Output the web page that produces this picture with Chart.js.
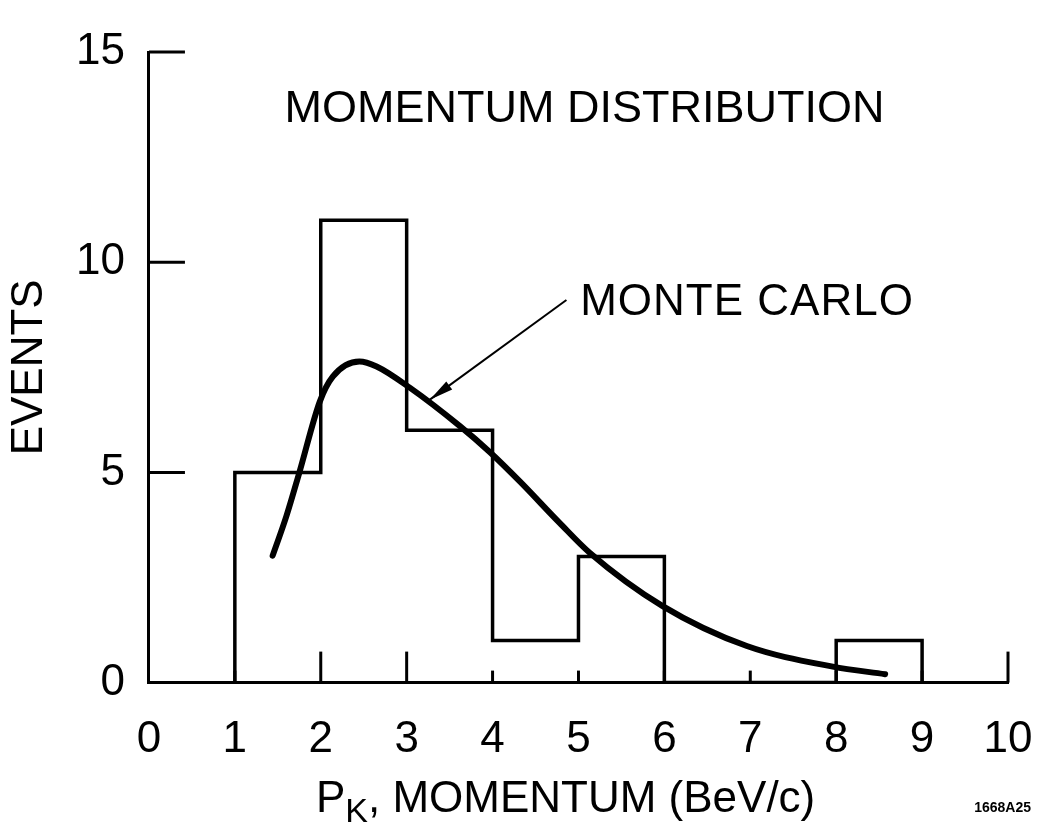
<!DOCTYPE html>
<html>
<head>
<meta charset="utf-8">
<title>Momentum distribution</title>
<script src="https://cdn.jsdelivr.net/npm/chart.js@4"></script>
<style>
  html, body { margin: 0; padding: 0; background: #fff; }
  canvas { display: block; }
</style>
</head>
<body>
<canvas id="momentumChart" width="1037" height="827"></canvas>
<script>
// histogram bins (BeV/c) and events counted in each
var binEdges = [1, 2, 3, 4, 5, 6, 7, 8, 9];
var binCounts = [5, 11, 6, 1, 3, 0, 0, 1];

// Monte Carlo expectation curve
var mcMomentum = [1.44, 1.60, 1.75, 1.99, 2.14, 2.45, 2.65, 3.04, 3.62, 3.97, 4.32, 4.78, 5.13, 5.98, 6.96, 7.96, 8.57];
var mcEvents = [3.02, 3.96, 4.99, 6.69, 7.28, 7.64, 7.52, 7.01, 6.10, 5.48, 4.78, 3.80, 3.09, 1.82, 0.87, 0.38, 0.20];

var xTicks = [0, 1, 2, 3, 4, 5, 6, 7, 8, 9, 10];
var yTicks = [0, 5, 10, 15];

var FONT = "'Liberation Sans', Arial, sans-serif";
Chart.defaults.font.family = FONT;
Chart.defaults.color = '#000';

// outline of the histogram as one stepped line
var histPoints = [{ x: binEdges[0], y: 0 }];
for (var i = 0; i < binCounts.length; i++) {
  histPoints.push({ x: binEdges[i + 1], y: binCounts[i] });
}
histPoints.push({ x: binEdges[binEdges.length - 1], y: 0 });

var mcPoints = mcMomentum.map(function(p, i) { return { x: p, y: mcEvents[i] }; });

function line(ctx, x0, y0, x1, y1) {
  ctx.beginPath();
  ctx.moveTo(x0, y0);
  ctx.lineTo(x1, y1);
  ctx.stroke();
}

// inward tick marks, arrow and lettering
var annotations = {
  id: 'annotations',
  afterDatasetsDraw: function(chart) {
    var ctx = chart.ctx, x = chart.scales.x, y = chart.scales.y;
    ctx.save();
    ctx.strokeStyle = '#000';
    ctx.fillStyle = '#000';
    ctx.lineWidth = 3;

    yTicks.forEach(function(v) {
      if (v === 0) return;
      var py = y.getPixelForValue(v);
      line(ctx, x.left, py, x.left + 36, py);
    });
    xTicks.forEach(function(v) {
      if (v === 0) return;
      var len = (v === 2 || v === 3 || v === 10) ? 31 : 12;
      var px = x.getPixelForValue(v);
      line(ctx, px, y.bottom, px, y.bottom - len);
    });

    // arrow pointing at the curve
    var ax0 = x.getPixelForValue(4.86), ay0 = y.getPixelForValue(9.1);
    var ax1 = x.getPixelForValue(3.27), ay1 = y.getPixelForValue(6.73);
    ctx.lineWidth = 2;
    line(ctx, ax0, ay0, ax1, ay1);
    var ang = Math.atan2(ay1 - ay0, ax1 - ax0);
    var hl = 24, hw = 5;
    ctx.beginPath();
    ctx.moveTo(ax1, ay1);
    ctx.lineTo(ax1 - hl * Math.cos(ang) + hw * Math.sin(ang), ay1 - hl * Math.sin(ang) - hw * Math.cos(ang));
    ctx.lineTo(ax1 - hl * Math.cos(ang) - hw * Math.sin(ang), ay1 - hl * Math.sin(ang) + hw * Math.cos(ang));
    ctx.closePath();
    ctx.fill();

    ctx.textBaseline = 'alphabetic';
    ctx.font = '45px ' + FONT;
    ctx.textAlign = 'center';
    ctx.fillText('MOMENTUM DISTRIBUTION', x.getPixelForValue(5.07), y.getPixelForValue(13.33));

    ctx.textAlign = 'left';
    ctx.font = '44px ' + FONT;
    ctx.letterSpacing = '1px';
    ctx.fillText('MONTE CARLO', x.getPixelForValue(5.02), y.getPixelForValue(8.75));
    ctx.letterSpacing = '0px';

    // x axis title with subscript K
    var base = chart.height - 15;
    var mainFont = '44px ' + FONT, subFont = '34px ' + FONT;
    var rest = ', MOMENTUM (BeV/c)';
    ctx.font = mainFont;
    var wP = ctx.measureText('P').width, wRest = ctx.measureText(rest).width;
    ctx.font = subFont;
    var wK = ctx.measureText('K').width;
    var sx = x.getPixelForValue(4.85) - (wP + wK + wRest) / 2;
    ctx.font = mainFont;
    ctx.fillText('P', sx, base);
    ctx.font = subFont;
    ctx.fillText('K', sx + wP, base + 10);
    ctx.font = mainFont;
    ctx.fillText(rest, sx + wP + wK, base);

    ctx.font = 'bold 14px ' + FONT;
    ctx.textAlign = 'right';
    ctx.fillText('1668A25', chart.width - 6, base);
    ctx.restore();
  }
};

var ctx = document.getElementById('momentumChart').getContext('2d');
var momentumChart = new Chart(ctx, {
  type: 'scatter',
  data: {
    datasets: [
      {
        label: 'Events',
        data: histPoints,
        showLine: true,
        stepped: 'after',
        borderColor: '#000',
        borderWidth: 3.5,
        pointRadius: 0,
        fill: false
      },
      {
        label: 'Monte Carlo',
        data: mcPoints,
        showLine: true,
        cubicInterpolationMode: 'monotone',
        borderColor: '#000',
        borderWidth: 6,
        borderCapStyle: 'round',
        pointRadius: 0,
        fill: false
      }
    ]
  },
  options: {
    responsive: false,
    animation: false,
    devicePixelRatio: 1,
    layout: { padding: { top: 52, right: 29, bottom: 30, left: 0 } },
    plugins: {
      legend: { display: false },
      tooltip: { enabled: false }
    },
    scales: {
      x: {
        type: 'linear',
        min: 0,
        max: 10,
        afterBuildTicks: function(scale) {
          scale.ticks = xTicks.map(function(v) { return { value: v }; });
        },
        grid: { display: false, drawTicks: false },
        border: { display: true, color: '#000', width: 3 },
        // tall line height pushes the numbers down without widening the side padding
        ticks: { font: { size: 44, lineHeight: 2.6 }, padding: 0, maxRotation: 0, autoSkip: false }
      },
      y: {
        type: 'linear',
        min: 0,
        max: 15,
        afterBuildTicks: function(scale) {
          scale.ticks = yTicks.map(function(v) { return { value: v }; });
        },
        grid: { display: false, drawTicks: false },
        border: { display: true, color: '#000', width: 3 },
        ticks: { font: { size: 44 }, padding: 24 },
        title: {
          display: true,
          text: 'EVENTS',
          font: { size: 44, lineHeight: 1 },
          padding: { top: 8, bottom: 0 }
        }
      }
    }
  },
  plugins: [annotations]
});
</script>
</body>
</html>
